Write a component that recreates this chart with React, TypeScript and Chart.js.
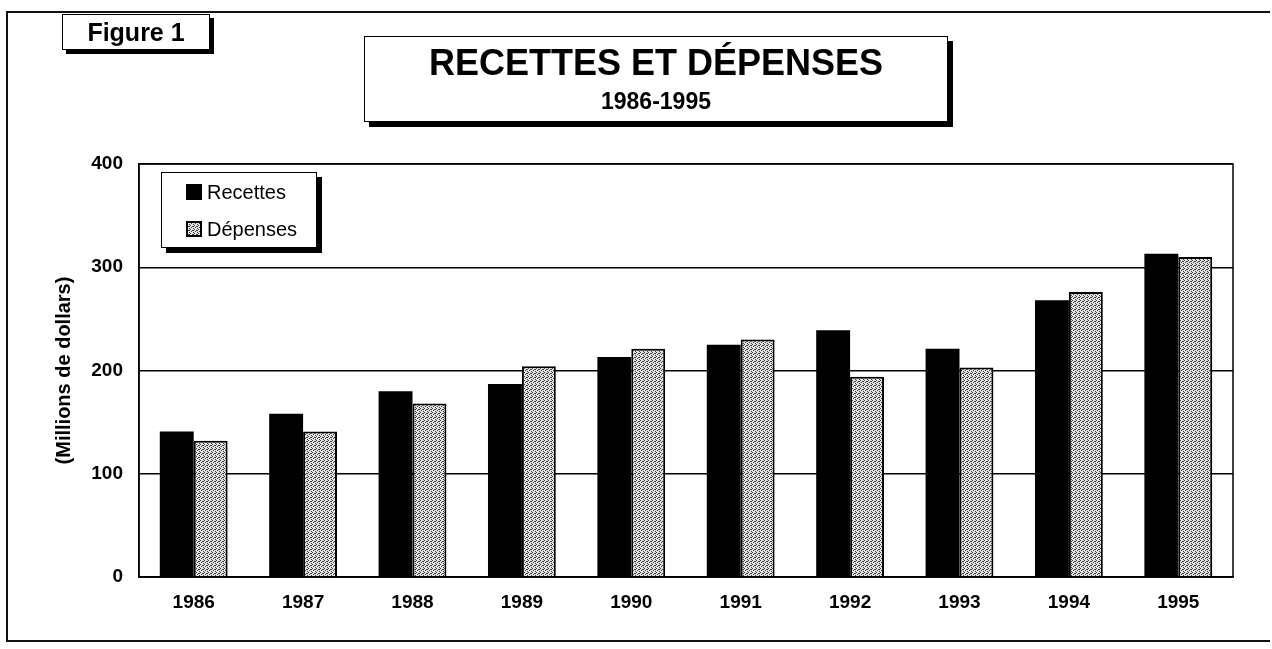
import React, { useEffect, useRef } from 'react';
import { Chart, registerables } from 'chart.js';

Chart.register(...registerables);

const years = ['1986', '1987', '1988', '1989', '1990', '1991', '1992', '1993', '1994', '1995'];
const recettes = [141, 158, 180, 187, 213, 225, 239, 221, 268, 313];
const depenses = [132, 141, 168, 204, 221, 230, 194, 203, 276, 310];
const yTickValues = [0, 100, 200, 300, 400];
const seriesNames = ['Recettes', 'Dépenses'];

const FONT = '"Liberation Sans", Arial, Helvetica, sans-serif';

function makePattern(): CanvasPattern | string {
  const c = document.createElement('canvas');
  c.width = 4;
  c.height = 4;
  const g = c.getContext('2d');
  if (!g) return '#b0b0b0';
  g.fillStyle = '#e4e4e4';
  g.fillRect(0, 0, 4, 4);
  g.fillStyle = '#3a3a3a';
  g.fillRect(0, 0, 1, 1);
  g.fillRect(2, 1, 1, 1);
  g.fillRect(1, 2, 1, 1);
  g.fillRect(3, 3, 1, 1);
  g.fillRect(3, 1, 1, 1);
  const p = g.createPattern(c, 'repeat');
  return p || '#b0b0b0';
}

export default function App() {
  const canvasRef = useRef<HTMLCanvasElement>(null);
  const swatchRef = useRef<HTMLCanvasElement>(null);

  useEffect(() => {
    if (!canvasRef.current) return;
    const pattern = makePattern();

    if (swatchRef.current) {
      const sctx = swatchRef.current.getContext('2d');
      if (sctx) {
        sctx.fillStyle = pattern as any;
        sctx.fillRect(0, 0, 16, 16);
        sctx.strokeStyle = '#000';
        sctx.lineWidth = 2;
        sctx.strokeRect(1, 1, 14, 14);
      }
    }

    const frame = {
      id: 'plotFrame',
      afterDatasetsDraw(chart: any) {
        const { ctx, chartArea: a } = chart;
        ctx.save();
        ctx.strokeStyle = '#000';
        ctx.lineWidth = 1.5;
        ctx.strokeRect(a.left, a.top, a.right - a.left, a.bottom - a.top);
        ctx.restore();
      },
    };

    const chart = new Chart(canvasRef.current, {
      type: 'bar',
      data: {
        labels: years,
        datasets: [
          {
            label: seriesNames[0],
            data: recettes,
            backgroundColor: '#000',
            borderWidth: 0,
            categoryPercentage: 0.62,
            barPercentage: 1.0,
          },
          {
            label: seriesNames[1],
            data: depenses,
            backgroundColor: pattern as any,
            borderColor: '#000',
            borderWidth: 2,
            categoryPercentage: 0.62,
            barPercentage: 1.0,
          },
        ],
      },
      options: {
        animation: false,
        responsive: false,
        maintainAspectRatio: false,
        layout: { padding: { left: 44, top: 164, right: 39, bottom: 0 } },
        plugins: {
          legend: { display: false },
          tooltip: { enabled: false },
          title: { display: false },
        },
        scales: {
          x: {
            grid: { display: false, drawTicks: false },
            border: { display: true, color: '#000', width: 1.5 },
            ticks: {
              color: '#000',
              font: { family: FONT, size: 19, weight: 'bold' },
              padding: 14,
              maxRotation: 0,
            },
            afterFit(scale: any) {
              scale.height = 72;
            },
          },
          y: {
            min: 0,
            max: 400,
            afterBuildTicks(scale: any) {
              scale.ticks = yTickValues.map((v) => ({ value: v }));
            },
            ticks: {
              color: '#000',
              font: { family: FONT, size: 19, weight: 'bold' },
              padding: 16,
            },
            grid: { color: '#000', lineWidth: 1.5, drawTicks: false },
            border: { display: true, color: '#000', width: 1.5 },
            title: {
              display: true,
              text: '(Millions de dollars)',
              color: '#000',
              font: { family: FONT, size: 20, weight: 'bold' },
              padding: { top: 8, bottom: 0 },
            },
            afterFit(scale: any) {
              scale.width = 95;
            },
          },
        },
      },
      plugins: [frame],
    } as any);

    return () => chart.destroy();
  }, []);

  const boxText: React.CSSProperties = { fontFamily: FONT, color: '#000' };

  return (
    <div
      style={{
        position: 'fixed',
        left: 0,
        top: 0,
        width: 1272,
        height: 649,
        background: '#fff',
        overflow: 'hidden',
      }}
    >
      <div
        style={{
          position: 'absolute',
          left: 6,
          top: 11,
          width: 1262,
          height: 627,
          borderTop: '2px solid #111',
          borderLeft: '2px solid #111',
          borderBottom: '2px solid #111',
        }}
      />
      <canvas
        ref={canvasRef}
        width={1272}
        height={649}
        style={{ position: 'absolute', left: 0, top: 0, width: 1272, height: 649 }}
      />
      {/* Figure 1 box */}
      <div
        style={{
          ...boxText,
          position: 'absolute',
          left: 62,
          top: 14,
          width: 146,
          height: 34,
          border: '1.5px solid #000',
          boxShadow: '4px 4px 0 #000',
          background: '#fff',
          fontWeight: 'bold',
          fontSize: 25,
          lineHeight: '34px',
          textAlign: 'center',
        }}
      >
        Figure 1
      </div>
      {/* Title box */}
      <div
        style={{
          ...boxText,
          position: 'absolute',
          left: 364,
          top: 36,
          width: 582,
          height: 84,
          border: '1.5px solid #000',
          boxShadow: '5px 5px 0 #000',
          background: '#fff',
          textAlign: 'center',
        }}
      >
        <div style={{ fontWeight: 'bold', fontSize: 36, lineHeight: '36px', marginTop: 8 }}>
          RECETTES ET DÉPENSES
        </div>
        <div style={{ fontWeight: 'bold', fontSize: 23, lineHeight: '24px', marginTop: 8 }}>
          1986-1995
        </div>
      </div>
      {/* Legend */}
      <div
        style={{
          ...boxText,
          position: 'absolute',
          left: 161,
          top: 172,
          width: 154,
          height: 74,
          border: '1.5px solid #000',
          boxShadow: '5px 5px 0 #000',
          background: '#fff',
          fontSize: 20,
        }}
      >
        <div style={{ position: 'absolute', left: 24, top: 9, display: 'flex', alignItems: 'center' }}>
          <div style={{ width: 16, height: 16, background: '#000', marginRight: 5 }} />
          <span style={{ lineHeight: '20px' }}>{seriesNames[0]}</span>
        </div>
        <div style={{ position: 'absolute', left: 24, top: 46, display: 'flex', alignItems: 'center' }}>
          <canvas ref={swatchRef} width={16} height={16} style={{ width: 16, height: 16, marginRight: 5 }} />
          <span style={{ lineHeight: '20px' }}>{seriesNames[1]}</span>
        </div>
      </div>
    </div>
  );
}
